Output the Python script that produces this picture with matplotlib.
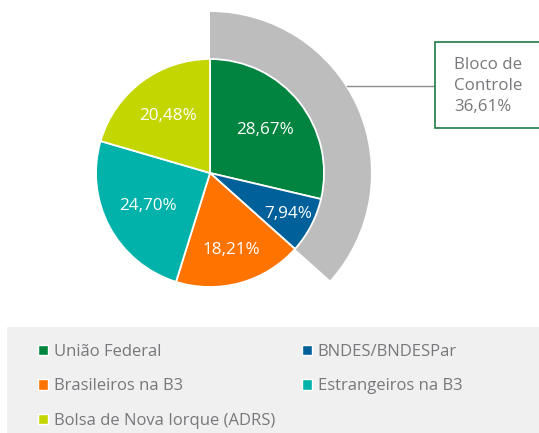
import matplotlib.pyplot as plt
from matplotlib.patches import Wedge, Rectangle, Patch
import numpy as np

# dados da composição acionária
categorias = ['União Federal', 'BNDES/BNDESPar', 'Brasileiros na B3',
              'Estrangeiros na B3', 'Bolsa de Nova Iorque (ADRS)']
valores = [28.67, 7.94, 18.21, 24.70, 20.48]
cores = ['#00843f', '#00609a', '#ff7300', '#00b2a9', '#c4d600']
bloco_controle = 36.61
texto_bloco = 'Bloco de\nControle\n36,61%'

W, H = 539, 433
fig = plt.figure(figsize=(W / 100, H / 100), dpi=100)
ax = fig.add_axes([0, 0, 1, 1])

cx, cy = 210, H - 173   # centro da pizza (em pixels)
r = 114
r_ext = 161

# arco cinza do bloco de controle (por baixo da pizza)
ang_fim = 90 - bloco_controle * 3.6
ax.add_patch(Wedge((cx, cy), r_ext, ang_fim, 90, facecolor='#bdbdbd',
                   edgecolor='none', zorder=0))

wedges, _ = ax.pie(valores, colors=cores, startangle=90, counterclock=False,
                   center=(cx, cy), radius=r,
                   wedgeprops=dict(edgecolor='white', linewidth=1.3))

# rótulos dentro das fatias
dist = [0.61, 0.77, 0.70, 0.62, 0.62]
for w, v, d in zip(wedges, valores, dist):
    ang = np.deg2rad((w.theta1 + w.theta2) / 2)
    ax.text(cx + d * r * np.cos(ang), cy + d * r * np.sin(ang),
            f'{v:.2f}'.replace('.', ',') + '%', color='white', fontsize=12.3,
            ha='center', va='center', family='Open Sans')

# caixa do bloco de controle
ax.plot([347, 435], [H - 86, H - 86], color='#8a8a8a', lw=1, zorder=1)
ax.add_patch(Rectangle((435, H - 128), 120, 86, facecolor='white',
                       edgecolor='#1e7a45', lw=1.2, zorder=2))
ax.text(454, H - 86, texto_bloco, color='#77787b', fontsize=12.2,
        ha='left', va='center', family='Open Sans', linespacing=1.38, zorder=3)

# fundo da legenda
ax.add_patch(Rectangle((7, 0), W, H - 327, facecolor='#f0f0f0',
                       edgecolor='none', zorder=0))

ordem = [0, 2, 4, 1, 3]
handles = [Patch(facecolor=cores[i], edgecolor='white', lw=1) for i in ordem]
labels = [categorias[i] for i in ordem]
leg = ax.legend(handles, labels, ncol=2, frameon=False, loc='upper left',
                bbox_to_anchor=(38 / W, 1 - 344 / H), handlelength=0.6,
                handleheight=0.6, handletextpad=0.35, columnspacing=1.6,
                labelspacing=1.1, borderaxespad=0, borderpad=0,
                prop=dict(family='Open Sans', size=12))
for t in leg.get_texts():
    t.set_color('#77787b')

ax.set_xlim(0, W)
ax.set_ylim(0, H)
ax.set_aspect('auto')
ax.axis('off')

fig.savefig('out.png', dpi=100)
